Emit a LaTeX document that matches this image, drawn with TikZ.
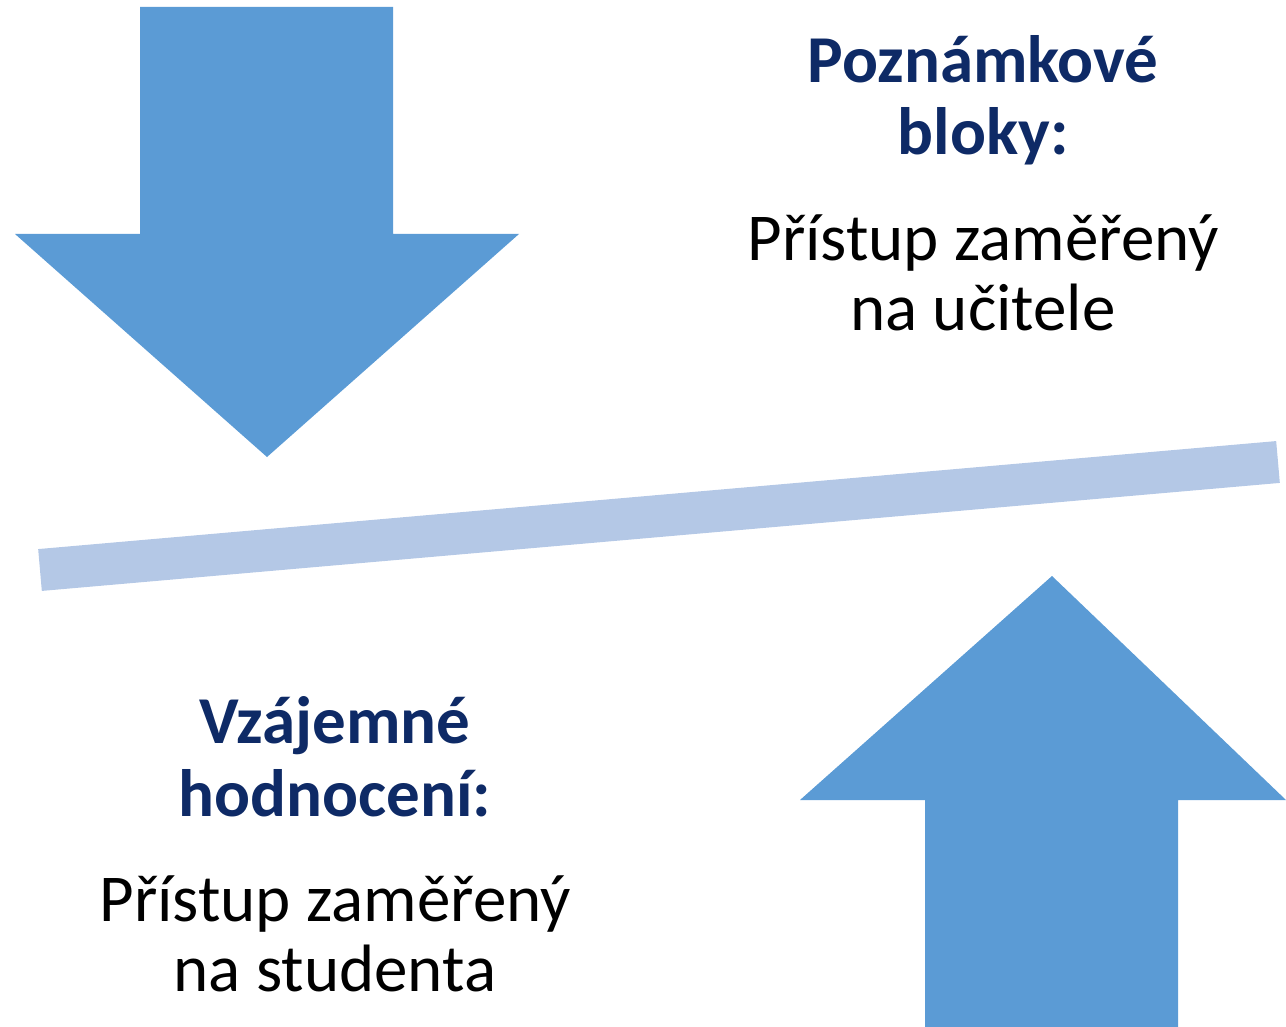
\documentclass[tikz,border=0pt]{standalone}
\usepackage{fontspec}
\setmainfont{Carlito}
\definecolor{arrowblue}{HTML}{5B9BD5}
\definecolor{barblue}{HTML}{B4C8E6}
\definecolor{navy}{HTML}{0E2A66}
\begin{document}
\begin{tikzpicture}[x=0.5pt,y=-0.5pt,
  arrowshape/.style={fill=arrowblue,draw=none},
  head/.style={font=\fontsize{33.5}{40}\selectfont\bfseries,text=navy,anchor=base,inner sep=0pt},
  body/.style={font=\fontsize{33.5}{40}\selectfont,text=black,anchor=base,inner sep=0pt}]
\useasboundingbox (0,0) rectangle (1286,1027);
% top arrow
\fill[arrowblue] (140,7) -- (393,7) -- (393,234) -- (519,234) -- (267,457) -- (15,234) -- (140,234) -- cycle;
% bottom arrow
\fill[arrowblue] (925,1027) -- (1178,1027) -- (1178,800) -- (1286,800) -- (1052,576) -- (800,800) -- (925,800) -- cycle;
% bar
\draw[barblue,line width=21pt] (40,570) -- (1278,462);
% texts
\node[head] (h1) at (983,83) {Poznámkové};
\node[head] (h2) at (983,155) {bloky:};
\node[body] (b1) at (983,261) {Přístup zaměřený};
\node[body] (b2) at (983,331) {na učitele};
\node[head] (h3) at (335,743) {Vzájemné};
\node[head] (h4) at (335,816) {hodnocení:};
\node[body] (b3) at (335,921) {Přístup zaměřený};
\node[body] (b4) at (335,991) {na studenta};
\end{tikzpicture}
\end{document}
